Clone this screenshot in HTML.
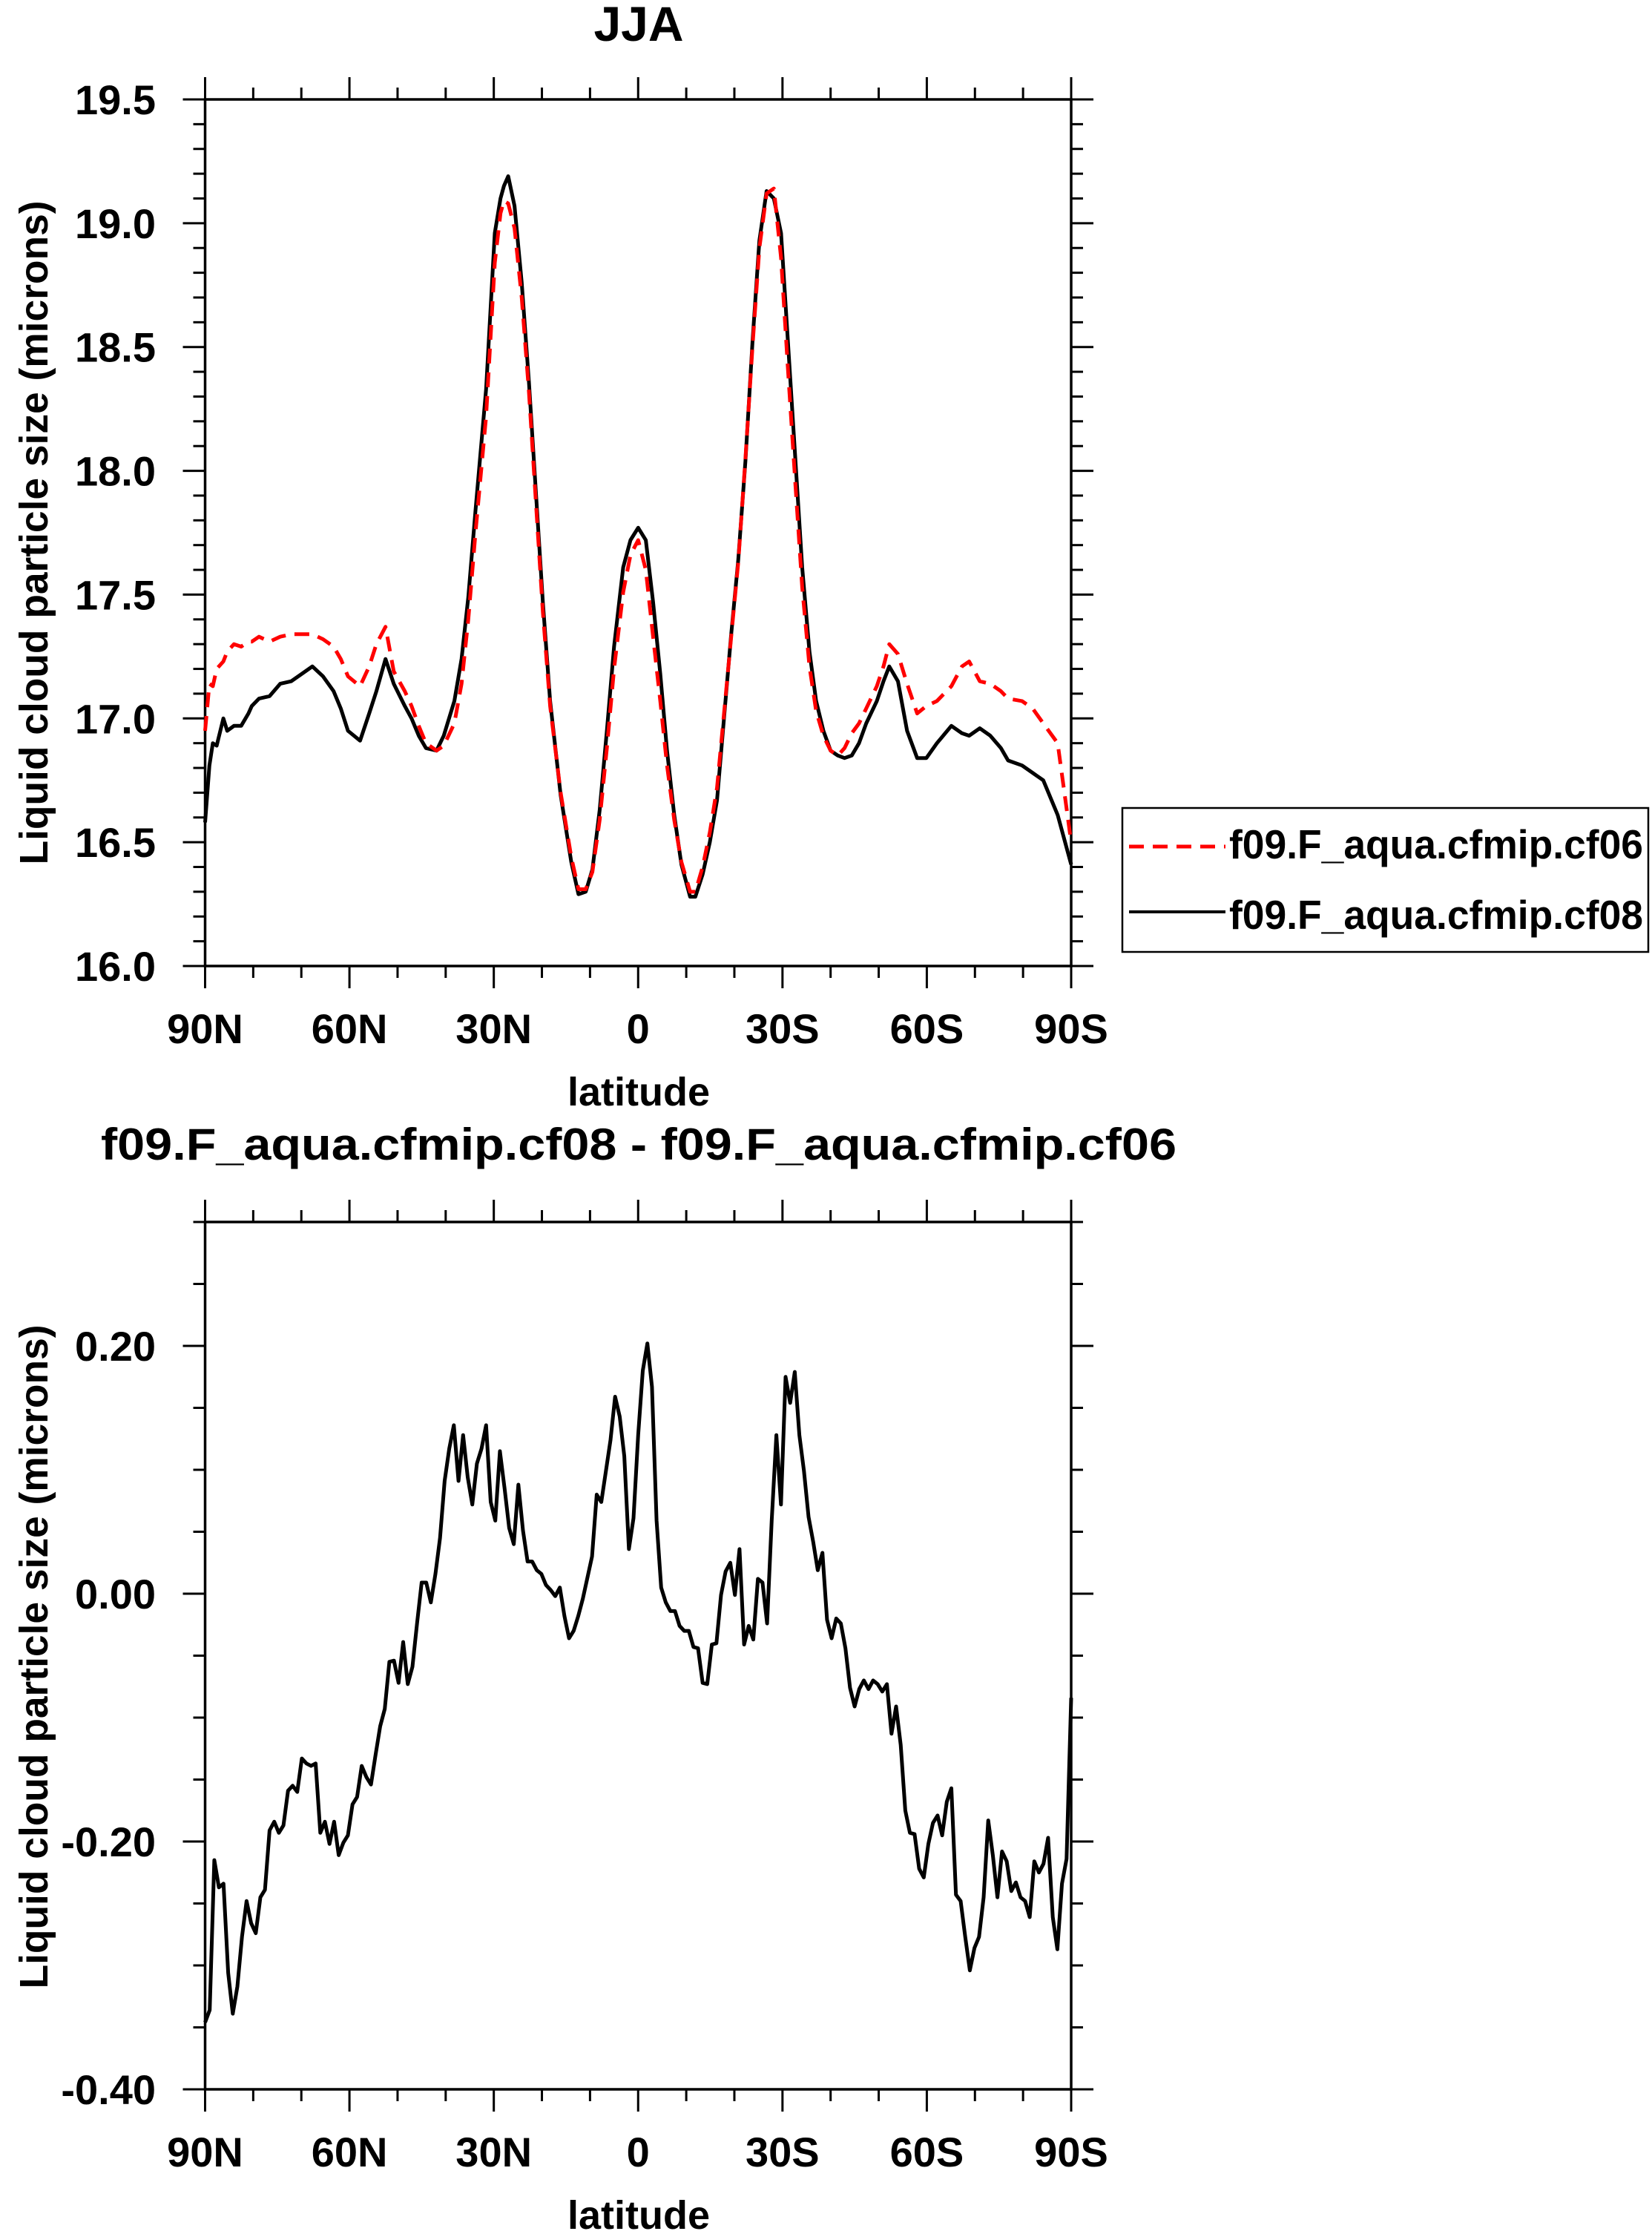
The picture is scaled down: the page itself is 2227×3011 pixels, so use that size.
<!DOCTYPE html>
<html><head><meta charset="utf-8"><style>
html,body{margin:0;padding:0;background:#fff;}
svg{display:block;}
text{font-family:"Liberation Sans",sans-serif;font-weight:bold;fill:#000;}
</style></head><body>
<svg id="chart" width="2227" height="3011" viewBox="0 0 2227 3011" xmlns="http://www.w3.org/2000/svg">
<text x="861" y="55" font-size="66" text-anchor="middle">JJA</text>
<text x="861" y="1563" font-size="60" text-anchor="middle" textLength="1450" lengthAdjust="spacingAndGlyphs">f09.F_aqua.cfmip.cf08 - f09.F_aqua.cfmip.cf06</text>
<text transform="translate(64,718) rotate(-90)" font-size="54" text-anchor="middle" textLength="895" lengthAdjust="spacingAndGlyphs">Liquid cloud particle size (microns)</text>
<text transform="translate(64,2233) rotate(-90)" font-size="54" text-anchor="middle" textLength="895" lengthAdjust="spacingAndGlyphs">Liquid cloud particle size (microns)</text>
<text x="861" y="1490" font-size="54" text-anchor="middle">latitude</text>
<text x="861" y="3004" font-size="54" text-anchor="middle">latitude</text>
<g>
<rect x="1513" y="1089" width="709" height="194" fill="none" stroke="#000" stroke-width="2.5"/>
<line x1="1522" y1="1141" x2="1652" y2="1141" stroke="#ff0000" stroke-width="5" stroke-dasharray="20,12"/>
<text x="1657" y="1157" font-size="55" textLength="558" lengthAdjust="spacingAndGlyphs">f09.F_aqua.cfmip.cf06</text>
<line x1="1522" y1="1229" x2="1652" y2="1229" stroke="#000" stroke-width="4"/>
<text x="1657" y="1252" font-size="55" textLength="558" lengthAdjust="spacingAndGlyphs">f09.F_aqua.cfmip.cf08</text>
</g>
</svg>
<script>
const topLats=[90,89.1,88.4,87.6,86.2,85.4,84.0,82.5,81.0,80.3,78.8,76.6,74.4,72.1,69.9,67.7,65.5,63.3,61.8,60.3,57.8,55.9,54.4,52.5,50.8,48.5,47.1,45.6,44.1,41.9,40.4,38.2,36.7,35.3,33.8,31.6,29.8,28.6,27.9,27.0,25.7,24.2,22.7,21.2,19.8,18.3,16.1,13.9,12.4,10.9,9.5,8.0,6.5,5.0,3.1,1.6,0,-1.6,-3.1,-4.6,-6.0,-7.5,-9.0,-10.8,-11.9,-13.4,-14.9,-16.4,-17.8,-19.3,-20.8,-22.3,-23.8,-25.2,-26.7,-28.2,-29.7,-31.1,-32.6,-34.1,-35.6,-37.0,-38.5,-40.0,-41.5,-42.9,-44.4,-45.9,-47.4,-49.6,-51.0,-52.2,-54.0,-55.9,-58.0,-59.9,-62.1,-65.1,-67.3,-68.8,-71.0,-73.2,-75.4,-76.9,-79.8,-82.0,-84.2,-87.2,-90];
const cf08=[16.58,16.81,16.90,16.89,17.00,16.95,16.97,16.97,17.02,17.05,17.08,17.09,17.14,17.15,17.18,17.21,17.17,17.11,17.04,16.95,16.91,17.02,17.11,17.24,17.14,17.05,17.00,16.93,16.88,16.87,16.93,17.07,17.24,17.49,17.84,18.33,18.96,19.10,19.15,19.19,19.07,18.76,18.36,17.90,17.47,17.07,16.69,16.42,16.29,16.30,16.39,16.63,16.95,17.29,17.61,17.72,17.77,17.72,17.47,17.18,16.87,16.61,16.41,16.28,16.28,16.37,16.50,16.67,16.99,17.33,17.64,18.04,18.53,18.93,19.13,19.10,18.96,18.53,18.07,17.61,17.27,17.07,16.95,16.87,16.85,16.84,16.85,16.90,16.98,17.07,17.15,17.21,17.15,16.95,16.84,16.84,16.90,16.97,16.94,16.93,16.96,16.93,16.88,16.83,16.81,16.78,16.75,16.61,16.41];
const cf06=[16.95,17.14,17.13,17.20,17.23,17.27,17.30,17.29,17.31,17.31,17.33,17.31,17.33,17.34,17.34,17.34,17.32,17.29,17.24,17.17,17.13,17.21,17.30,17.37,17.19,17.11,17.05,16.97,16.90,16.87,16.89,16.98,17.14,17.40,17.75,18.22,18.84,19.04,19.09,19.08,18.98,18.70,18.32,17.86,17.43,17.05,16.70,16.44,16.31,16.31,16.38,16.59,16.88,17.20,17.51,17.66,17.72,17.60,17.33,17.07,16.81,16.59,16.42,16.30,16.30,16.40,16.54,16.72,17.01,17.32,17.63,18.05,18.51,18.90,19.12,19.14,18.86,18.42,17.97,17.53,17.21,17.03,16.93,16.87,16.85,16.88,16.94,16.98,17.04,17.13,17.21,17.30,17.26,17.14,17.02,17.05,17.07,17.13,17.21,17.23,17.15,17.14,17.11,17.08,17.07,17.04,16.98,16.90,16.50];
const diffVals=[-0.346,-0.336,-0.215,-0.237,-0.234,-0.306,-0.339,-0.317,-0.277,-0.248,-0.266,-0.274,-0.245,-0.239,-0.191,-0.184,-0.193,-0.187,-0.159,-0.155,-0.160,-0.133,-0.137,-0.139,-0.137,-0.193,-0.184,-0.202,-0.184,-0.211,-0.201,-0.195,-0.170,-0.164,-0.139,-0.148,-0.154,-0.130,-0.107,-0.093,-0.055,-0.054,-0.072,-0.039,-0.073,-0.059,-0.024,0.009,0.009,-0.007,0.016,0.045,0.091,0.117,0.136,0.091,0.128,0.094,0.072,0.105,0.117,0.136,0.074,0.059,0.115,0.085,0.053,0.040,0.088,0.051,0.026,0.026,0.019,0.016,0.007,0.003,-0.002,0.005,-0.018,-0.036,-0.030,-0.018,-0.004,0.013,0.030,0.080,0.074,0.099,0.124,0.159,0.143,0.111,0.036,0.061,0.128,0.180,0.202,0.167,0.059,0.005,-0.007,-0.014,-0.014,-0.026,-0.030,-0.030,-0.043,-0.044,-0.072,-0.073,-0.041,-0.040,-0.001,0.018,0.025,-0.001,0.036,-0.041,-0.026,-0.037,0.012,0.009,-0.024,0.059,0.128,0.072,0.175,0.154,0.179,0.128,0.099,0.062,0.042,0.019,0.033,-0.021,-0.036,-0.020,-0.024,-0.044,-0.076,-0.091,-0.077,-0.070,-0.077,-0.070,-0.073,-0.079,-0.073,-0.113,-0.091,-0.122,-0.175,-0.193,-0.194,-0.222,-0.229,-0.202,-0.185,-0.179,-0.195,-0.168,-0.157,-0.243,-0.248,-0.277,-0.304,-0.286,-0.277,-0.245,-0.183,-0.211,-0.245,-0.208,-0.216,-0.240,-0.233,-0.245,-0.248,-0.261,-0.216,-0.225,-0.218,-0.197,-0.261,-0.287,-0.234,-0.214,-0.084];
const xTickLats=[90,60,30,0,-30,-60,-90];
const xTickLabels=["90N","60N","30N","0","30S","60S","90S"];
const topYTicks=[16.0,16.5,17.0,17.5,18.0,18.5,19.0,19.5];
const topYLabels=["16.0","16.5","17.0","17.5","18.0","18.5","19.0","19.5"];
const botYTicks=[-0.4,-0.2,0.0,0.2];
const botYLabels=["-0.40","-0.20","0.00","0.20"];

const svg=document.getElementById('chart');
const NS='http://www.w3.org/2000/svg';
const X0=276.5,X1=1444;
function xs(lat){return X0+(90-lat)/180*(X1-X0);}
function mk(tag,attrs,parent){const e=document.createElementNS(NS,tag);for(const k in attrs)e.setAttribute(k,attrs[k]);(parent||svg).appendChild(e);return e;}

function panel(name,yTop,yBot,vMin,vMax,yTicks,yLabels,minorStep){
  const ys=v=>yBot-(v-vMin)/(vMax-vMin)*(yBot-yTop);
  const g=mk('g',{});
  
  
  for(let lat=90;lat>=-90;lat-=10){
    const major=lat%30===0;const L=major?30:16;const x=xs(lat);
    const t1=mk('line',{x1:x,y1:yBot,x2:x,y2:yBot+L,stroke:'#000','stroke-width':3},g);
    
    
    const t2=mk('line',{x1:x,y1:yTop,x2:x,y2:yTop-L,stroke:'#000','stroke-width':3},g);
    
    
  }
  const nMin=Math.round((vMax-vMin)/minorStep);
  for(let i=0;i<=nMin;i++){
    const v=vMin+i*minorStep;const y=ys(v);
    const major=yTicks.some(t=>Math.abs(t-v)<1e-6);const L=major?30:16;
    const t1=mk('line',{x1:X0-L,y1:y,x2:X0,y2:y,stroke:'#000','stroke-width':3},g);
    
    
    const t2=mk('line',{x1:X1,y1:y,x2:X1+L,y2:y,stroke:'#000','stroke-width':3},g);
    
    
  }
  xTickLats.forEach((lat,i)=>{
    const t=mk('text',{x:xs(lat),y:yBot+104,'font-size':56,'text-anchor':'middle'},g);
    t.textContent=xTickLabels[i];
    
    
  });
  yTicks.forEach((v,i)=>{
    const t=mk('text',{x:210,y:ys(v)+20,'font-size':56,'text-anchor':'end'},g);
    t.textContent=yLabels[i];
    
    
  });
  const fr=mk('rect',{x:X0,y:yTop,width:X1-X0,height:yBot-yTop,fill:'none',stroke:'#000','stroke-width':3.5},g);
  
  
  return ys;
}

const ysTop=panel('top-plot',134,1302,16.0,19.5,topYTicks,topYLabels,0.1);
const ysBot=panel('bottom-plot',1647,2816,-0.4,0.3,botYTicks,botYLabels,0.05);

function series(lats,vals,ys,attrs,name){
  const d=vals.map((v,i)=>(i?'L':'M')+xs(lats[i]).toFixed(1)+','+ys(v).toFixed(1)).join(' ');
  const p=mk('path',Object.assign({d:d,fill:'none','stroke-linejoin':'round'},attrs));
  
  
}
series(topLats,cf08,ysTop,{stroke:'#000','stroke-width':5},'line-cf08');
series(topLats,cf06,ysTop,{stroke:'#ff0000','stroke-width':5,'stroke-dasharray':'20,12'},'line-cf06');
const diffLats=diffVals.map((v,i)=>90-i*180/(diffVals.length-1));
series(diffLats,diffVals,ysBot,{stroke:'#000','stroke-width':5},'line-difference');
</script>
</body></html>
